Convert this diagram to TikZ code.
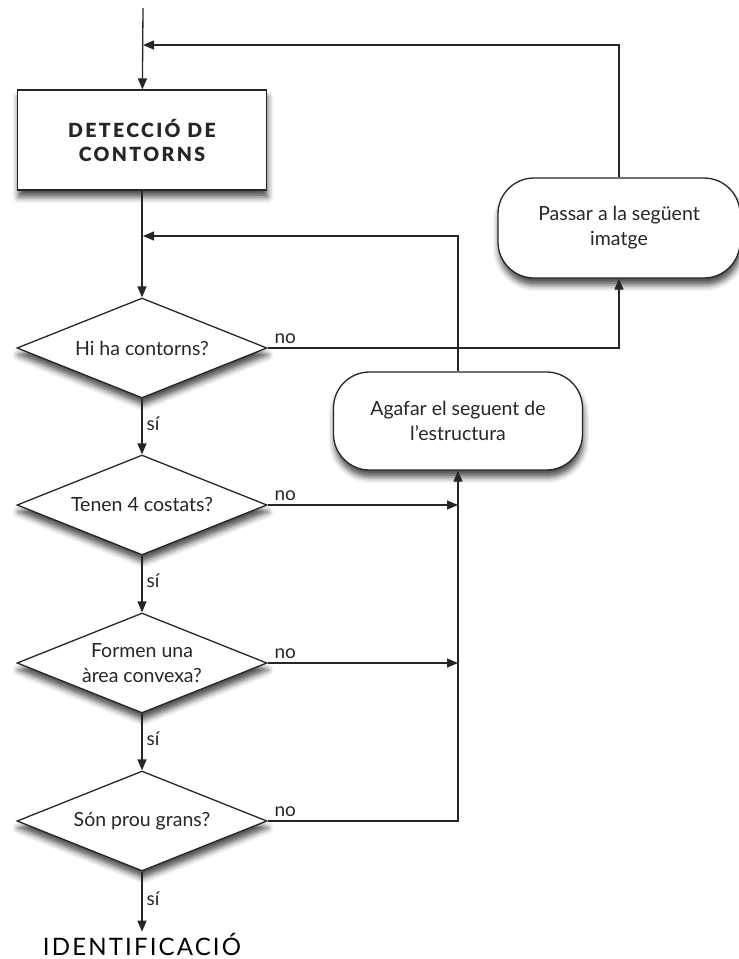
\documentclass[tikz,border=0pt]{standalone}
\usepackage{fontspec}
\setmainfont{Lato}
\newfontfamily\titlefont[LetterSpace=12,BoldFont={* Black}]{Lato}
\newfontfamily\endfont[LetterSpace=9]{Lato}
\usetikzlibrary{shapes.geometric,arrows.meta,shadows.blur}

\begin{document}
\begin{tikzpicture}[x=1pt,y=-1pt,
    every node/.style={font=\fontsize{19.5}{25}\selectfont},
    wire/.style={line width=1.3pt,black!85},
    flow/.style={wire,-{Triangle[length=11pt,width=9pt]}},
    soft/.style={blur shadow={shadow xshift=1pt,shadow yshift=-7pt,shadow blur radius=6pt,shadow opacity=70}},
    procbox/.style={draw,wire,fill=white,soft,minimum width=249pt,minimum height=100pt,align=center},
    roundbox/.style={procbox,rounded corners=36pt},
    testbox/.style={draw,wire,fill=white,soft,diamond,aspect=2.5,minimum width=250pt,
                    minimum height=100pt,inner sep=0pt,align=center},
    silabel/.style={right,pos=0.45,inner sep=4pt,font=\fontsize{19}{22}\selectfont},
    nolabel/.style={above right,xshift=3pt,font=\fontsize{19}{22}\selectfont}]
    \useasboundingbox (0,0) rectangle (739,959);
    \coordinate (top) at (143,8);
    \coordinate (back1) at (143,45);
    \coordinate (back2) at (143,236);
    \node[procbox,font=\titlefont\bfseries\fontsize{19.5}{24}\selectfont] (detect) at (142,140) {DETECCIÓ DE\\CONTORNS};
    \node[testbox] (d1) at (142,348) {Hi ha contorns?};
    \node[testbox] (d2) at (142,505) {Tenen 4 costats?};
    \node[testbox] (d3) at (142,663) {Formen una\\àrea convexa?};
    \node[testbox] (d4) at (142,821) {Són prou grans?};
    \node[font=\endfont\fontsize{24}{26}\selectfont,inner sep=1pt] (ident) at (142,944) {IDENTIFICACIÓ};
    \node[roundbox,minimum height=98pt] (agafar) at (458,421) {Agafar el seguent de\\l'estructura};
    \node[roundbox,minimum width=242pt] (passar) at (619,228) {Passar a la següent\\imatge};
    \draw[flow] (top) -- (detect);
    \draw[flow] (detect) -- (d1);
    \foreach \a/\b in {d1/d2,d2/d3,d3/d4,d4/ident}
      \draw[flow] (\a) -- node[silabel] {sí} (\b);
    \draw[flow] (d1.east) node[nolabel] {no} -| (passar.south);
    \foreach \d in {d2,d3}
      \draw[flow] (\d.east) node[nolabel] {no} -- (\d.east -| agafar.south);
    \draw[flow] (d4.east) node[nolabel] {no} -| (agafar.south);
    \draw[flow] (passar.north) |- (back1);
    \draw[flow] (agafar.north) |- (back2);
  \end{tikzpicture}
\end{document}
